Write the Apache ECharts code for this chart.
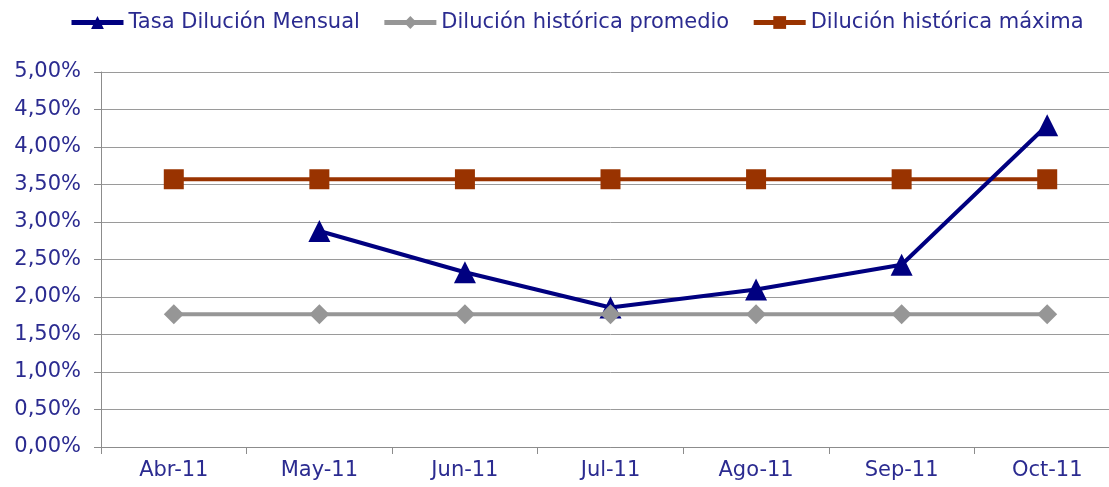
<!DOCTYPE html>
<html>
<head>
  <meta charset="utf-8" />
  <title>Dilución</title>
  <script src="https://cdn.jsdelivr.net/npm/echarts@6/dist/echarts.min.js"></script>
  <style>
    html, body { margin: 0; padding: 0; background: #fff; overflow: hidden; }
  </style>
</head>
<body>
  <!-- el área de trazado sigue un poco más allá del borde derecho -->
  <div id="main" style="width: 1120px;height:487px;"></div>
  <script type="text/javascript">
    // datos (en %)
    var months = ['Abr-11', 'May-11', 'Jun-11', 'Jul-11', 'Ago-11', 'Sep-11', 'Oct-11'];
    var tasaMensual = [null, 2.88, 2.33, 1.86, 2.10, 2.43, 4.29];
    var promedio = [1.77, 1.77, 1.77, 1.77, 1.77, 1.77, 1.77];
    var maxima = [3.57, 3.57, 3.57, 3.57, 3.57, 3.57, 3.57];

    var txtColor = '#2b2b90';
    var font = 'DejaVu Sans, Verdana, sans-serif';

    var myChart = echarts.init(document.getElementById('main'));

    var option = {
      animation: false,
      textStyle: { fontFamily: font },
      legend: {
        top: 7,
        left: 64,
        itemWidth: 52,
        itemHeight: 16,
        itemGap: 22,
        lineStyle: { width: 5 },
        textStyle: { color: txtColor, fontSize: 21, fontFamily: font },
        data: ['Tasa Dilución Mensual', 'Dilución histórica promedio', 'Dilución histórica máxima']
      },
      grid: {
        left: 101,
        right: 0,
        top: 72,
        bottom: 40,
        containLabel: false
      },
      xAxis: {
        type: 'category',
        data: months,
        boundaryGap: true,
        axisLine: { lineStyle: { color: '#8c8c8c', width: 1 } },
        axisTick: { show: true, interval: 0, length: 7, lineStyle: { color: '#8c8c8c' } },
        axisLabel: { color: txtColor, fontSize: 21, margin: 13, fontFamily: font }
      },
      yAxis: {
        type: 'value',
        min: 0,
        max: 5,
        interval: 0.5,
        axisLine: { show: true, lineStyle: { color: '#8c8c8c', width: 1 } },
        axisTick: { show: true, length: 7, lineStyle: { color: '#8c8c8c' } },
        splitLine: { show: true, lineStyle: { color: '#9a9a9a', width: 1 } },
        axisLabel: {
          color: txtColor,
          fontSize: 21,
          margin: 20,
          fontFamily: font,
          formatter: function (v) {
            return v.toFixed(2).replace('.', ',') + '%';
          }
        }
      },
      series: [
        {
          name: 'Tasa Dilución Mensual',
          type: 'line',
          data: tasaMensual,
          symbol: 'triangle',
          symbolSize: 22,
          z: 3,
          lineStyle: { color: '#000080', width: 4 },
          itemStyle: { color: '#000080' }
        },
        {
          name: 'Dilución histórica promedio',
          type: 'line',
          data: promedio,
          symbol: 'diamond',
          symbolSize: 20,
          z: 4,
          lineStyle: { color: '#969696', width: 4 },
          itemStyle: { color: '#969696' }
        },
        {
          name: 'Dilución histórica máxima',
          type: 'line',
          data: maxima,
          symbol: 'rect',
          symbolSize: 20,
          z: 2,
          lineStyle: { color: '#993300', width: 4 },
          itemStyle: { color: '#993300' }
        }
      ]
    };
    myChart.setOption(option);
  </script>
</body>
</html>
